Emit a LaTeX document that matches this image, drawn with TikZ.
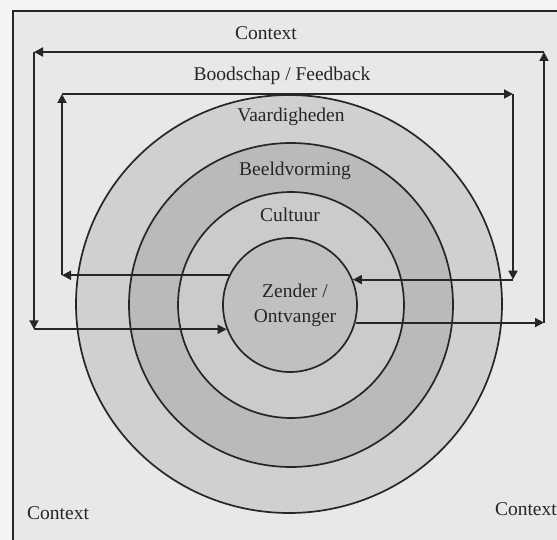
\documentclass[tikz,border=0pt]{standalone}
\usepackage{fontspec}
\setmainfont{Liberation Serif}
\usetikzlibrary{arrows.meta}
\definecolor{paper}{HTML}{F4F4F4}
\definecolor{bg}{HTML}{E8E8E8}
\definecolor{ringA}{HTML}{D0D0D0}
\definecolor{ringB}{HTML}{BABABA}
\definecolor{ringC}{HTML}{CBCBCB}
\definecolor{core}{HTML}{C0C0C0}
\definecolor{ink}{HTML}{262626}
\tikzset{
  lbl/.style={anchor=base, inner sep=0pt, text=ink, font=\fontsize{19.5}{22}\selectfont},
  ring/.style={draw=ink, line width=1.7pt},
  arr/.style={draw=ink, line width=1.9pt, -{Triangle[length=9pt,width=9pt]}},
  frameline/.style={draw=ink, line width=2pt}
}
\begin{document}
\begin{tikzpicture}[x=1pt,y=-1pt]
\useasboundingbox (0,0) rectangle (557,540);
\fill[paper] (0,0) rectangle (557,540);
\fill[bg] (13,11) rectangle (557,540);
\draw[frameline] (13,540) -- (13,11) -- (557,11);

% rings
\filldraw[ring, fill=ringA] (289,304) ellipse [x radius=213pt, y radius=209pt];
\filldraw[ring, fill=ringB] (291,305) circle [radius=162pt];
\filldraw[ring, fill=ringC] (291,305) circle [radius=113pt];
\node[circle, minimum size=134pt, inner sep=0pt, fill=core, draw=ink, line width=1.7pt] (zc) at (290,305) {};

% corners of the loops
\coordinate (iTL) at (62,94);
\coordinate (iTR) at (513,94);
\coordinate (oTL) at (34,52);
\coordinate (oTR) at (544,52);

% inner loop
\draw[arr] (zc.154) -- (zc.154 -| iTL);
\draw[arr] (zc.154 -| iTL) -- (iTL);
\draw[arr] (iTL) -- (iTR);
\draw[arr] (iTR) -- (iTR |- zc.22);
\draw[arr] (iTR |- zc.22) -- (zc.22);

% outer loop
\draw[arr] (zc.-15) -- (zc.-15 -| oTR);
\draw[arr] (zc.-15 -| oTR) -- (oTR);
\draw[arr] (oTR) -- (oTL);
\draw[arr] (oTL) -- (oTL |- zc.201);
\draw[arr] (oTL |- zc.201) -- (zc.201);

% labels
\node[lbl] (ctxTop) at (266,40) {Context};
\node[lbl] (msg) at (282,81) {Boodschap / Feedback};
\node[lbl] (vaard) at (291,122) {Vaardigheden};
\node[lbl] (beeld) at (295,176) {Beeldvorming};
\node[lbl] (cult) at (290,222) {Cultuur};
\node[lbl] (zend) at (295,297) {Zender /};
\node[lbl] (ontv) at (295,322.7) {Ontvanger};
\node[lbl, anchor=base west] (ctxBL) at (27,519) {Context};
\node[lbl, anchor=base east] (ctxBR) at (557,515) {Context};
\end{tikzpicture}
\end{document}
